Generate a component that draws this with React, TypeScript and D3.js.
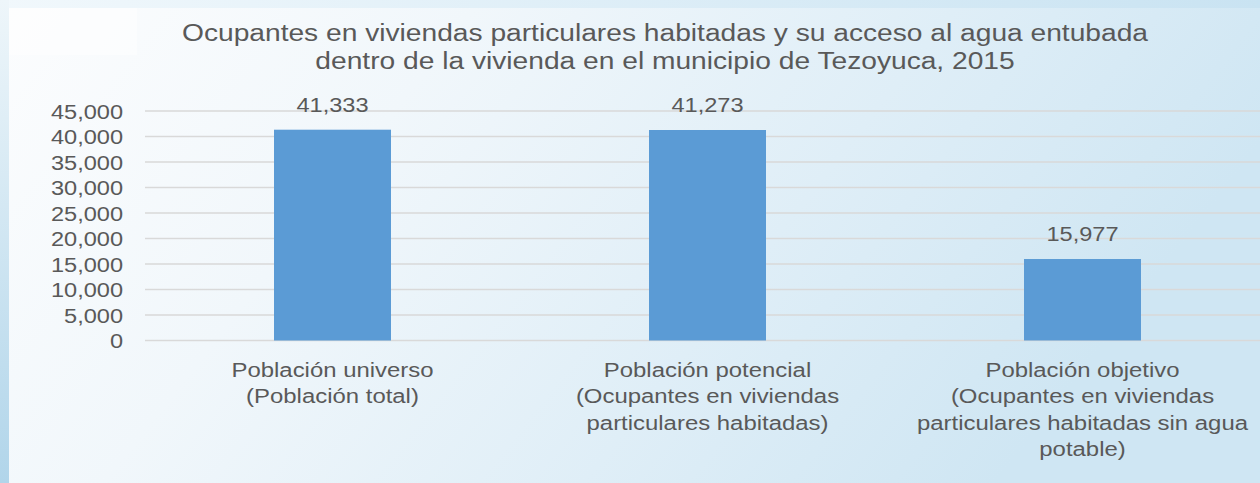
import * as d3 from "d3";
import { useRef, useEffect } from "react";

const categories = [
  ["Población universo", "(Población total)"],
  ["Población potencial", "(Ocupantes en viviendas", "particulares habitadas)"],
  ["Población objetivo", "(Ocupantes en viviendas", "particulares habitadas sin agua", "potable)"],
];
const values = [41333, 41273, 15977];
const yTicks = [0, 5000, 10000, 15000, 20000, 25000, 30000, 35000, 40000, 45000];
const titleLines = [
  "Ocupantes en viviendas particulares habitadas y su acceso al agua entubada",
  "dentro de la vivienda en el municipio de Tezoyuca, 2015",
];

const W = 1260;
const H = 483;
const SX = 1.15; // the picture text is a bit wider than tall

const App = () => {
  const container = useRef<HTMLDivElement>(null);

  useEffect(() => {
    const node = container.current;
    if (!node) return;
    d3.select(node).selectAll("*").remove();

    const svg = d3
      .select(node)
      .append("svg")
      .attr("width", W)
      .attr("height", H)
      .style("display", "block");

    const defs = svg.append("defs");
    const bg = defs.append("linearGradient").attr("id", "bg").attr("x1", 0).attr("x2", 1).attr("y1", 0).attr("y2", 0.3);
    bg.append("stop").attr("offset", "0%").attr("stop-color", "#fcfdfe");
    bg.append("stop").attr("offset", "35%").attr("stop-color", "#f1f7fb");
    bg.append("stop").attr("offset", "70%").attr("stop-color", "#dfeef7");
    bg.append("stop").attr("offset", "100%").attr("stop-color", "#cfe6f3");
    const left = defs.append("linearGradient").attr("id", "left").attr("x1", 0).attr("x2", 0).attr("y1", 0).attr("y2", 1);
    left.append("stop").attr("offset", "0%").attr("stop-color", "#eef6fa");
    left.append("stop").attr("offset", "100%").attr("stop-color", "#b1d5ea");
    const top = defs.append("linearGradient").attr("id", "top").attr("x1", 0).attr("x2", 1).attr("y1", 0).attr("y2", 0);
    top.append("stop").attr("offset", "0%").attr("stop-color", "#f1f8fc");
    top.append("stop").attr("offset", "100%").attr("stop-color", "#c9e3f2");

    svg.append("rect").attr("width", W).attr("height", H).attr("fill", "url(#bg)");
    svg.append("rect").attr("x", 9).attr("y", 8).attr("width", 128).attr("height", 47).attr("fill", "#ffffff").attr("opacity", 0.45);
    svg.append("rect").attr("width", W).attr("height", 8).attr("fill", "url(#top)");
    svg.append("rect").attr("width", 9).attr("height", H).attr("fill", "url(#left)");

    const margins = { t: 111, b: 142.5, l: 145, r: -10 };

    const xScale = d3
      .scaleBand()
      .domain(categories.map((c, i) => String(i)))
      .range([margins.l, W - margins.r])
      .paddingInner(0.688)
      .paddingOuter(0.344);

    const yScale = d3
      .scaleLinear()
      .domain([0, 45000])
      .range([H - margins.b, margins.t]);

    const textColor = "#595959";
    const font = "'Liberation Sans', Arial, sans-serif";

    const stretched = (g: any, x: number, y: number, str: string, size: number, anchor: string) =>
      g
        .append("text")
        .attr("transform", `translate(${x},${y}) scale(${SX},1)`)
        .attr("text-anchor", anchor)
        .attr("font-family", font)
        .attr("font-size", size)
        .attr("fill", textColor)
        .text(str);

    // grid
    svg
      .selectAll(".grid")
      .data(yTicks)
      .join("line")
      .attr("class", "grid")
      .attr("x1", margins.l)
      .attr("x2", W)
      .attr("y1", (d) => yScale(d))
      .attr("y2", (d) => yScale(d))
      .attr("stroke", "#d9d9d9")
      .attr("stroke-width", 1.3);

    // y labels
    const fmt = d3.format(",");
    const yl = svg.append("g");
    yTicks.forEach((t) => stretched(yl, 123, yScale(t) + 7.5, fmt(t), 20.5, "end"));

    // bars
    svg
      .selectAll(".bar")
      .data(values)
      .join("rect")
      .attr("class", "bar")
      .attr("x", (d, i) => xScale(String(i))!)
      .attr("width", xScale.bandwidth())
      .attr("y", (d) => yScale(d))
      .attr("height", (d) => yScale(0) - yScale(d))
      .attr("fill", "#5b9bd5");

    // data labels
    const dl = svg.append("g");
    values.forEach((v, i) =>
      stretched(dl, xScale(String(i))! + xScale.bandwidth() / 2, yScale(v) - 18, fmt(v), 20.5, "middle")
    );

    // category labels
    const cl = svg.append("g");
    categories.forEach((lines, i) => {
      const cx = xScale(String(i))! + xScale.bandwidth() / 2;
      lines.forEach((ln, j) => stretched(cl, cx, 377 + j * 26.3, ln, 20.8, "middle"));
    });

    // title
    const tg = svg.append("g");
    titleLines.forEach((ln, j) => stretched(tg, 665, 40.5 + j * 28, ln, 24.5, "middle"));

    return;
  }, []);

  return <div ref={container} style={{ position: "fixed", left: 0, top: 0 }}></div>;
};

export default App;
